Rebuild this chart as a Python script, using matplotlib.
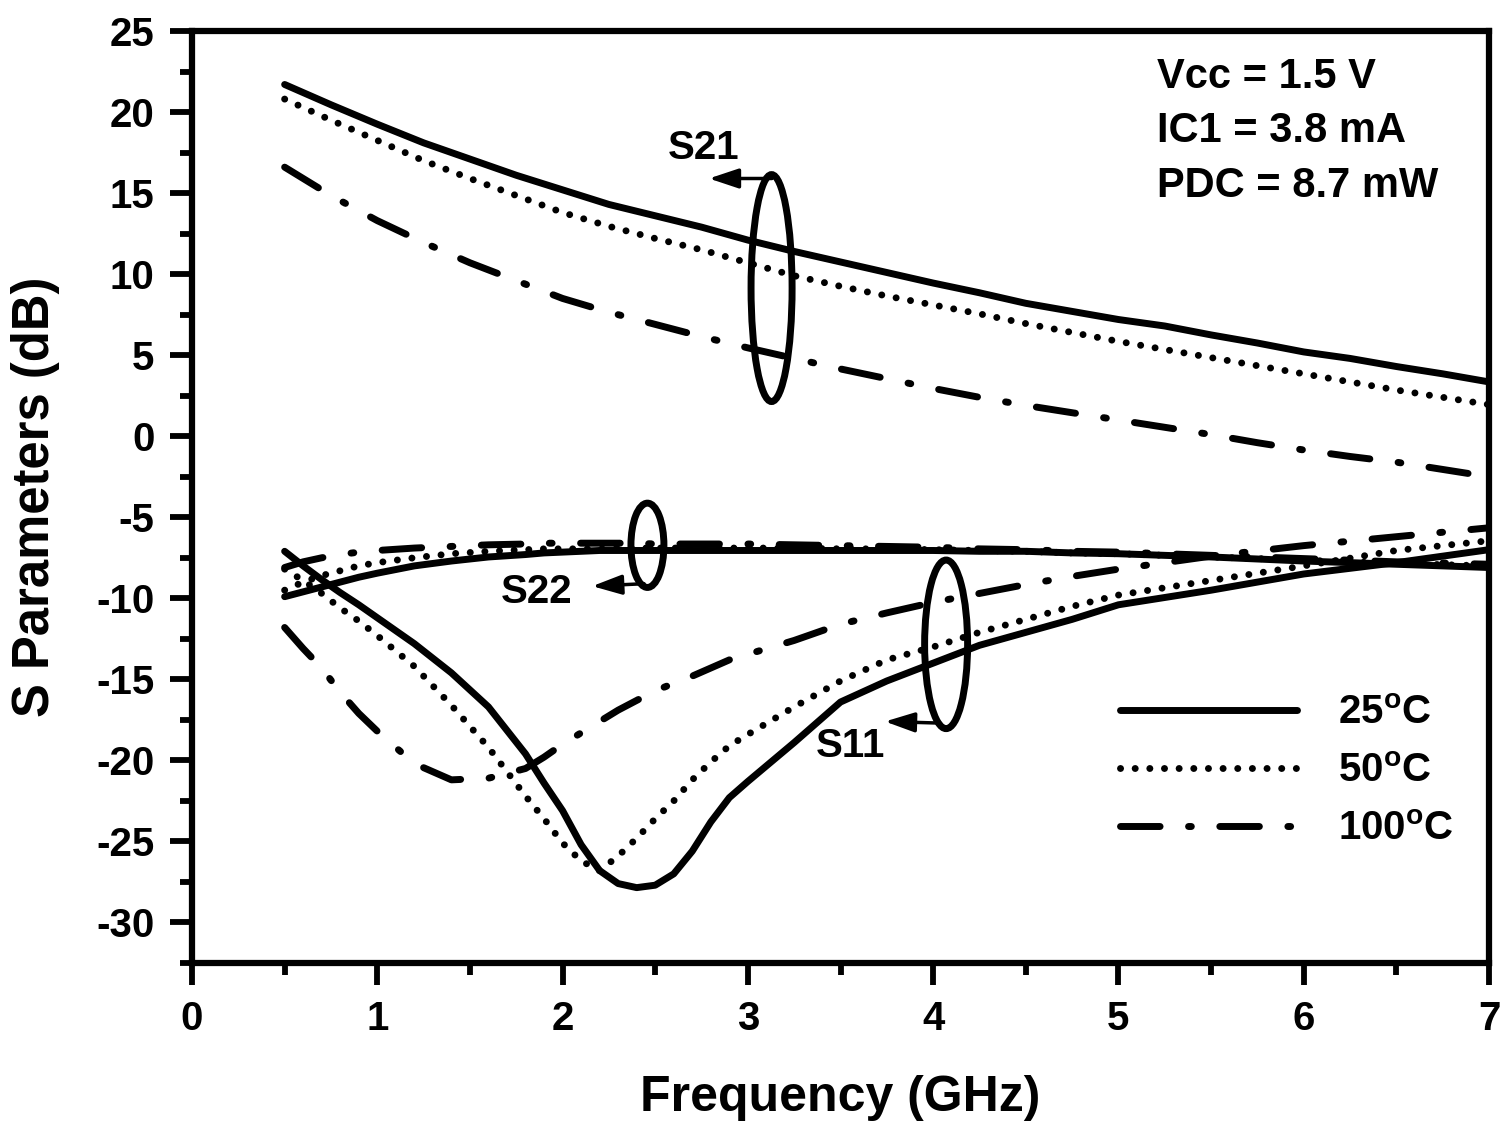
import matplotlib
matplotlib.use("Agg")
import matplotlib.pyplot as plt
from matplotlib.patches import Ellipse
from matplotlib.ticker import MultipleLocator

plt.rcParams['font.family'] = ['Liberation Sans', 'DejaVu Sans']
plt.rcParams['font.weight'] = 'bold'
plt.rcParams['axes.unicode_minus'] = False
plt.rcParams['mathtext.fontset'] = 'custom'
plt.rcParams['mathtext.rm'] = 'Liberation Sans:bold'
plt.rcParams['mathtext.bf'] = 'Liberation Sans:bold'
plt.rcParams['mathtext.it'] = 'Liberation Sans:bold'

# ---------------- data ----------------
freq_s21 = [0.5, 0.75, 1.0, 1.25, 1.5, 1.75, 2.0, 2.25, 2.5, 2.75, 3.0, 3.25, 3.5, 3.75,
            4.0, 4.25, 4.5, 4.75, 5.0, 5.25, 5.5, 5.75, 6.0, 6.25, 6.5, 6.75, 7.0]
s21_25 = [21.7, 20.45, 19.25, 18.1, 17.1, 16.1, 15.2, 14.3, 13.6, 12.9, 12.1, 11.4, 10.75, 10.1,
          9.45, 8.85, 8.2, 7.7, 7.2, 6.8, 6.25, 5.75, 5.2, 4.8, 4.3, 3.85, 3.35]
s21_50 = [20.8, 19.5, 18.25, 17.0, 15.9, 14.85, 13.8, 12.95, 12.2, 11.5, 10.7, 9.9, 9.25, 8.65,
          8.1, 7.55, 6.95, 6.4, 5.85, 5.35, 4.85, 4.35, 3.85, 3.35, 2.85, 2.4, 1.95]
s21_100 = [16.6, 14.85, 13.3, 11.95, 10.7, 9.6, 8.5, 7.65, 6.9, 6.15, 5.45, 4.8, 4.15, 3.55,
           2.95, 2.4, 1.9, 1.45, 1.0, 0.55, 0.1, -0.4, -0.85, -1.25, -1.6, -2.05, -2.5]

freq_s = [0.5, 0.6, 0.7, 0.8, 0.9, 1.0, 1.2, 1.4, 1.6, 1.8, 1.9, 2.0, 2.1, 2.2, 2.3, 2.4, 2.5,
          2.6, 2.7, 2.8, 2.9, 3.0, 3.25, 3.5, 3.75, 4.0, 4.25, 4.5, 4.75, 5.0, 5.5, 6.0, 6.5, 7.0]
s11_25 = [-7.1, -8.0, -8.85, -9.65, -10.4, -11.2, -12.8, -14.6, -16.7, -19.6, -21.4, -23.1, -25.2,
          -26.8, -27.6, -27.85, -27.7, -27.0, -25.6, -23.8, -22.3, -21.3, -18.9, -16.4, -15.1,
          -14.0, -12.9, -12.1, -11.3, -10.4, -9.5, -8.5, -7.8, -7.0]
s11_50 = [-8.2, -8.9, -9.7, -10.6, -11.4, -12.3, -14.2, -16.6, -19.2, -22.2, -23.6, -25.1, -26.2,
          -26.8, -25.9, -24.8, -23.6, -22.5, -21.2, -20.1, -19.1, -18.4, -16.7, -15.1, -13.8,
          -13.0, -12.1, -11.3, -10.5, -9.8, -8.9, -8.0, -7.05, -6.45]
s11_100 = [-11.8, -13.1, -14.3, -15.8, -17.1, -18.2, -20.2, -21.2, -21.1, -20.5, -19.8, -19.0,
           -18.3, -17.6, -16.9, -16.3, -15.7, -15.25, -14.8, -14.3, -13.8, -13.45, -12.6, -11.6,
           -10.9, -10.25, -9.7, -9.15, -8.65, -8.2, -7.4, -6.75, -6.2, -5.65]
s22_25 = [-9.9, -9.6, -9.3, -9.0, -8.7, -8.45, -8.0, -7.7, -7.45, -7.3, -7.2, -7.15, -7.1, -7.05,
          -7.05, -7.05, -7.05, -7.05, -7.05, -7.05, -7.05, -7.05, -7.05, -7.05, -7.05, -7.05,
          -7.1, -7.1, -7.2, -7.25, -7.45, -7.7, -7.9, -8.1]
s22_50 = [-9.5, -9.0, -8.6, -8.3, -8.0, -7.8, -7.5, -7.25, -7.1, -7.0, -6.95, -6.95, -6.95, -6.95,
          -6.9, -6.9, -6.9, -6.9, -6.9, -6.9, -6.9, -6.9, -6.9, -6.95, -6.95, -7.0, -7.05, -7.1,
          -7.2, -7.25, -7.45, -7.65, -7.85, -8.0]
s22_100 = [-8.1, -7.75, -7.5, -7.3, -7.15, -7.05, -6.9, -6.8, -6.7, -6.65, -6.6, -6.6, -6.6, -6.6,
           -6.6, -6.6, -6.65, -6.65, -6.65, -6.65, -6.65, -6.65, -6.7, -6.75, -6.8, -6.85, -6.95,
           -7.0, -7.1, -7.15, -7.35, -7.55, -7.75, -7.9]

legend_labels = [r'25$^{\rm o}$C', r'50$^{\rm o}$C', r'100$^{\rm o}$C']
x_ticks = [0, 1, 2, 3, 4, 5, 6, 7]
y_ticks = [25, 20, 15, 10, 5, 0, -5, -10, -15, -20, -25, -30]
info_text = "Vcc = 1.5 V\nIC1 = 3.8 mA\nPDC = 8.7 mW"

# ---------------- styles ----------------
LW = 5.0
solid = dict(color='k', lw=LW, linestyle='-', solid_capstyle='round')
dotted = dict(color='k', lw=LW, linestyle=(0, (0.01, 2.1)), dash_capstyle='round')
dashdot = dict(color='k', lw=LW, linestyle=(0, (5.7, 4.1, 0.4, 4.1)), dash_capstyle='round')

fig = plt.figure(figsize=(15.09, 11.28), dpi=100)
ax = fig.add_axes([192/1509, 1-963/1128, (1489-192)/1509, (963-31)/1128])

l25, = ax.plot(freq_s21, s21_25, **solid)
l50, = ax.plot(freq_s21, s21_50, **dotted)
l100, = ax.plot(freq_s21, s21_100, **dashdot)
ax.plot(freq_s, s11_25, **solid)
ax.plot(freq_s, s11_50, **dotted)
ax.plot(freq_s, s11_100, **dashdot)
ax.plot(freq_s, s22_25, **solid)
ax.plot(freq_s, s22_50, **dotted)
ax.plot(freq_s, s22_100, **dashdot)

ax.set_xlim(0, 7)
ax.set_ylim(-32.5, 25)
ax.set_xticks(x_ticks)
ax.set_yticks(y_ticks)
ax.xaxis.set_minor_locator(MultipleLocator(0.5))
ax.yaxis.set_minor_locator(MultipleLocator(2.5))

for sp in ax.spines.values():
    sp.set_linewidth(4.5)

ax.tick_params(axis='both', which='major', direction='out', length=16, width=4.2,
               labelsize=29, pad=11, top=False, right=False)
ax.tick_params(axis='both', which='minor', direction='out', length=8.5, width=4.2,
               top=False, right=False)

ax.set_xlabel('Frequency (GHz)', fontsize=36, fontweight='bold', labelpad=26)
ax.set_ylabel('S Parameters (dB)', fontsize=36.5, fontweight='bold', labelpad=26)

# ellipses + arrows + labels
ax.add_patch(Ellipse((3.128, 9.14), 0.2215, 14.0, fill=False, lw=5, ec='k'))
ax.add_patch(Ellipse((2.458, -6.73), 0.178, 5.2, fill=False, lw=5, ec='k'))
ax.add_patch(Ellipse((4.07, -12.84), 0.232, 10.4, fill=False, lw=5, ec='k'))

arr = dict(arrowstyle='-|>,head_length=0.9,head_width=0.3', lw=2.5, color='k',
           shrinkA=0, shrinkB=0, mutation_scale=20)
ax.annotate('', xy=(2.79, 15.9), xytext=(3.13, 15.9), arrowprops=arr)
ax.annotate('', xy=(2.16, -9.25), xytext=(2.44, -9.1), arrowprops=arr)
ax.annotate('', xy=(3.74, -17.6), xytext=(4.04, -17.7), arrowprops=arr)

tk = dict(fontsize=29, fontweight='bold', ha='center', va='center')
ax.text(2.76, 17.8, 'S21', **tk)
ax.text(1.86, -9.6, 'S22', **tk)
ax.text(3.555, -19.1, 'S11', **tk)

ax.text(0.744, 0.972, info_text, transform=ax.transAxes, fontsize=30, fontweight='bold',
        ha='left', va='top', linespacing=1.46)

ax.legend([l25, l50, l100], legend_labels, loc='upper left',
          bbox_to_anchor=((1120-192)/1297, (963-694)/932), frameon=False,
          fontsize=29, handlelength=4.4, handletextpad=1.0, labelspacing=0.5,
          borderpad=0, borderaxespad=0)

fig.savefig('out.png', dpi=100)
